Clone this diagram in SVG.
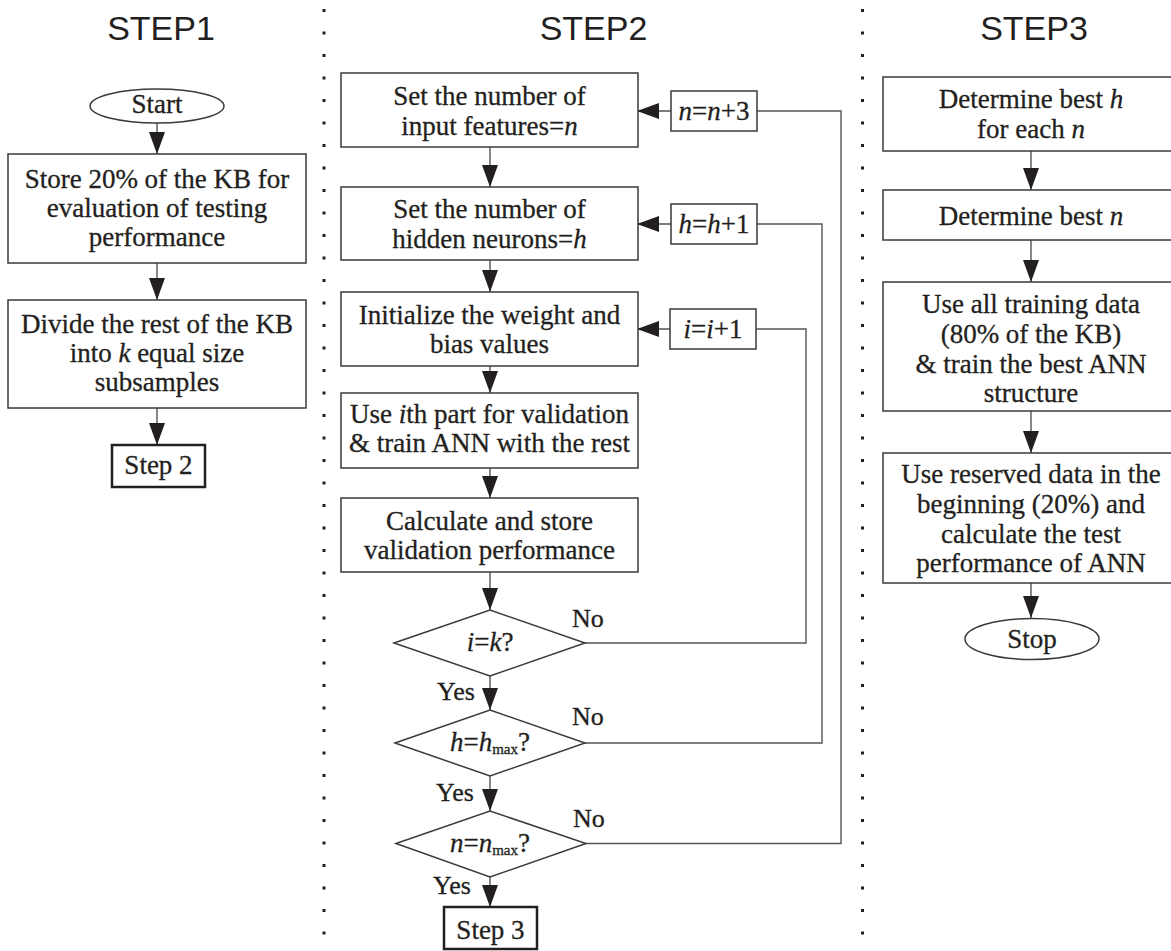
<svg xmlns="http://www.w3.org/2000/svg" width="1171" height="951" viewBox="0 0 1171 951">
<style>
.title{font-family:"Liberation Sans",Arial,sans-serif;font-size:34px;fill:#231f20;text-anchor:middle}
.t{font-family:"Liberation Serif","Times New Roman",serif;font-size:27px;fill:#231f20;stroke:#231f20;stroke-width:0.3;text-anchor:middle}
.lbl{font-family:"Liberation Serif","Times New Roman",serif;font-size:26px;fill:#231f20;stroke:#231f20;stroke-width:0.3}
.i{font-style:italic}
.box{fill:#fff;stroke:#3a3a3a;stroke-width:1.5}
.thick{fill:#fff;stroke:#231f20;stroke-width:2.5}
.conn{fill:none;stroke:#555;stroke-width:1.4}
.arr{fill:none;stroke:#555;stroke-width:1.4;marker-end:url(#ah)}
.dots{stroke:#231f20;stroke-width:3;stroke-dasharray:3 19.5}
.sub{font-size:15px}
</style>
<defs>
<marker id="ah" markerUnits="userSpaceOnUse" markerWidth="22" markerHeight="16" refX="22" refY="8" orient="auto">
<path d="M0,0 L22,8 L0,16 z" fill="#231f20"/>
</marker>
</defs>
<rect width="1171" height="951" fill="#fff"/>

<g id="dividers">
<line class="dots" x1="324" y1="9" x2="324" y2="951"/>
<line class="dots" x1="862.5" y1="9" x2="862.5" y2="951"/>
</g>

<g id="titles">
<text class="title" x="161" y="40">STEP1</text>
<text class="title" x="593.5" y="40">STEP2</text>
<text class="title" x="1034" y="40">STEP3</text>
</g>

<g id="connectors">
<line class="arr" x1="157" y1="123" x2="157" y2="154"/>
<line class="arr" x1="157" y1="263" x2="157" y2="300"/>
<line class="arr" x1="157" y1="408" x2="157" y2="445"/>
<line class="arr" x1="490" y1="147" x2="490" y2="187"/>
<line class="arr" x1="490" y1="260" x2="490" y2="292"/>
<line class="arr" x1="490" y1="366" x2="490" y2="393"/>
<line class="arr" x1="490" y1="468" x2="490" y2="498"/>
<line class="arr" x1="490" y1="572" x2="490" y2="610"/>
<line class="arr" x1="490" y1="676" x2="490" y2="710"/>
<line class="arr" x1="490" y1="776" x2="490" y2="811"/>
<line class="arr" x1="490" y1="877" x2="490" y2="907"/>
<polyline class="conn" points="585,643 806,643 806,329 756,329"/>
<polyline class="conn" points="585,743 822,743 822,224 757,224"/>
<polyline class="conn" points="586,843.5 841,843.5 841,111 757,111"/>
<line class="arr" x1="671" y1="111" x2="637" y2="111"/>
<line class="arr" x1="671" y1="224" x2="637" y2="224"/>
<line class="arr" x1="670" y1="329" x2="637" y2="329"/>
<line class="arr" x1="1031" y1="151" x2="1031" y2="190"/>
<line class="arr" x1="1031" y1="240" x2="1031" y2="282"/>
<line class="arr" x1="1031" y1="411" x2="1031" y2="453"/>
<line class="arr" x1="1031" y1="583" x2="1031" y2="618"/>
</g>

<g id="start">
<ellipse class="box" cx="157" cy="106" rx="67" ry="17"/>
<text class="t" x="157" y="113">Start</text>
</g>
<g id="store">
<rect class="box" x="8" y="154" width="298" height="109"/>
<text class="t" x="157" y="188">Store 20% of the KB for</text>
<text class="t" x="157" y="217">evaluation of testing</text>
<text class="t" x="157" y="246">performance</text>
</g>
<g id="divide">
<rect class="box" x="8" y="300" width="298" height="108"/>
<text class="t" x="157" y="333">Divide the rest of the KB</text>
<text class="t" x="157" y="362">into <tspan class="i">k</tspan> equal size</text>
<text class="t" x="157" y="391">subsamples</text>
</g>
<g id="step2ref">
<rect class="thick" x="112" y="445" width="93" height="42"/>
<text class="t" x="158.5" y="474">Step 2</text>
</g>

<g id="setn">
<rect class="box" x="341" y="73" width="297" height="74"/>
<text class="t" x="489.5" y="105">Set the number of</text>
<text class="t" x="489.5" y="135">input features=<tspan class="i">n</tspan></text>
</g>
<g id="nplus">
<rect class="box" x="671" y="91" width="86" height="40"/>
<text class="t" x="714" y="120"><tspan class="i">n</tspan>=<tspan class="i">n</tspan>+3</text>
</g>
<g id="seth">
<rect class="box" x="341" y="187" width="297" height="73"/>
<text class="t" x="489.5" y="218">Set the number of</text>
<text class="t" x="489.5" y="248">hidden neurons=<tspan class="i">h</tspan></text>
</g>
<g id="hplus">
<rect class="box" x="671" y="204" width="86" height="40"/>
<text class="t" x="714" y="233"><tspan class="i">h</tspan>=<tspan class="i">h</tspan>+1</text>
</g>
<g id="init">
<rect class="box" x="341" y="292" width="297" height="74"/>
<text class="t" x="489.5" y="324">Initialize the weight and</text>
<text class="t" x="489.5" y="353">bias values</text>
</g>
<g id="iplus">
<rect class="box" x="670" y="309" width="86" height="40"/>
<text class="t" x="713" y="338"><tspan class="i">i</tspan>=<tspan class="i">i</tspan>+1</text>
</g>
<g id="usei">
<rect class="box" x="341" y="393" width="297" height="75"/>
<text class="t" x="489.5" y="423">Use <tspan class="i">i</tspan>th part for validation</text>
<text class="t" x="489.5" y="452">&amp; train ANN with the rest</text>
</g>
<g id="calc">
<rect class="box" x="341" y="498" width="297" height="74"/>
<text class="t" x="489.5" y="530">Calculate and store</text>
<text class="t" x="489.5" y="559">validation performance</text>
</g>
<g id="dk">
<polygon class="box" points="394,643 490,610 585,643 490,676"/>
<text class="t" x="490" y="651"><tspan class="i">i</tspan>=<tspan class="i">k</tspan>?</text>
<text class="lbl" x="572" y="627">No</text>
<text class="lbl" x="437" y="700">Yes</text>
</g>
<g id="dh">
<polygon class="box" points="395,743 490,710 585,743 490,776"/>
<text class="t" x="490" y="751"><tspan class="i">h</tspan>=<tspan class="i">h</tspan><tspan class="sub" dy="3">max</tspan><tspan dy="-3">?</tspan></text>
<text class="lbl" x="572" y="725">No</text>
<text class="lbl" x="436" y="801">Yes</text>
</g>
<g id="dn">
<polygon class="box" points="396,843.5 490,811 586,843.5 490,877"/>
<text class="t" x="490" y="852"><tspan class="i">n</tspan>=<tspan class="i">n</tspan><tspan class="sub" dy="3">max</tspan><tspan dy="-3">?</tspan></text>
<text class="lbl" x="573" y="827">No</text>
<text class="lbl" x="433" y="894">Yes</text>
</g>
<g id="step3ref">
<rect class="thick" x="444" y="907" width="93" height="42"/>
<text class="t" x="490.5" y="939">Step 3</text>
</g>

<g id="besth">
<rect class="box" x="883" y="77" width="296" height="74"/>
<text class="t" x="1031" y="108">Determine best <tspan class="i">h</tspan></text>
<text class="t" x="1031" y="138">for each <tspan class="i">n</tspan></text>
</g>
<g id="bestn">
<rect class="box" x="883" y="190" width="296" height="50"/>
<text class="t" x="1031" y="225">Determine best <tspan class="i">n</tspan></text>
</g>
<g id="trainall">
<rect class="box" x="883" y="282" width="296" height="129"/>
<text class="t" x="1031" y="313">Use all training data</text>
<text class="t" x="1031" y="343">(80% of the KB)</text>
<text class="t" x="1031" y="373">&amp; train the best ANN</text>
<text class="t" x="1031" y="402">structure</text>
</g>
<g id="test">
<rect class="box" x="883" y="453" width="296" height="130"/>
<text class="t" x="1031" y="483">Use reserved data in the</text>
<text class="t" x="1031" y="513">beginning (20%) and</text>
<text class="t" x="1031" y="543">calculate the test</text>
<text class="t" x="1031" y="572">performance of ANN</text>
</g>
<g id="stop">
<ellipse class="box" cx="1032" cy="639" rx="67" ry="20.5"/>
<text class="t" x="1032" y="648">Stop</text>
</g>
</svg>
